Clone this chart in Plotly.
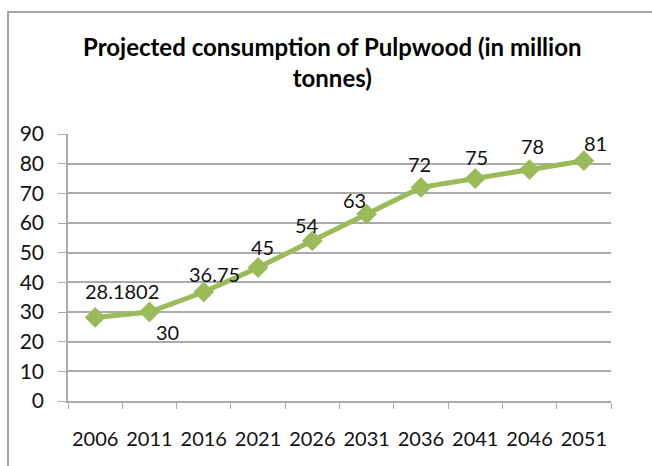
import plotly.graph_objects as go

years = ["2006", "2011", "2016", "2021", "2026", "2031", "2036", "2041", "2046", "2051"]
values = [28.1802, 30, 36.75, 45, 54, 63, 72, 75, 78, 81]
labels = ["28.1802", "30", "36.75", "45", "54", "63", "72", "75", "78", "81"]

# label offsets (pixels) relative to each point
label_dx = [27, 18, 11, 4, -5, -12, -1, 1, 3, 12]
label_dy = [26, -20, 18, 21, 16, 14, 23, 22, 24, 18]

GREEN = "#9bbb59"
GRID = "#ababab"
FONT = "Lato"

fig = go.Figure()
fig.add_trace(go.Scatter(
    x=years, y=values, mode="lines+markers",
    line=dict(color=GREEN, width=5),
    marker=dict(symbol="diamond", size=16, color=GREEN),
    hoverinfo="skip", showlegend=False,
))

for i, (y, t, dx, dy) in enumerate(zip(values, labels, label_dx, label_dy)):
    fig.add_annotation(x=i, y=y, text=t, showarrow=False, xshift=dx, yshift=dy,
                       font=dict(family=FONT, size=20, color="#111111"))

# title
fig.add_annotation(xref="paper", yref="paper", x=(332.5 - 68) / 543, y=(401 - 62.5) / 267,
                   xanchor="center", yanchor="middle", showarrow=False,
                   text="<b>Projected consumption of Pulpwood (in million<br>tonnes)</b>",
                   font=dict(family=FONT, size=24, color="#000000"))

# chart-area border (extends beyond the right/bottom edges like the reference)
fig.add_shape(type="rect", xref="paper", yref="paper",
              x0=-60/543, x1=1.5, y0=-1.0, y1=1 + 122/267,
              line=dict(color="#a6a6a6", width=2), layer="below")

fig.update_layout(
    width=652, height=466,
    margin=dict(l=68, r=41, t=134, b=65),
    paper_bgcolor="white", plot_bgcolor="white",
    font=dict(family=FONT, size=20, color="#111111"),
    xaxis=dict(type="category", range=[-0.5, 9.5], showgrid=False,
               showline=True, linecolor=GRID, linewidth=1.5,
               ticks="outside", tickson="boundaries", ticklen=6, tickcolor=GRID,
               tickangle=0, automargin=False,
               ticklabelstandoff=19, tickfont=dict(size=20), fixedrange=True),
    yaxis=dict(range=[0, 90], dtick=10, showgrid=True, gridcolor=GRID, gridwidth=1.5,
               showline=True, linecolor=GRID, linewidth=1.5, zeroline=False,
               ticks="outside", ticklen=8, tickcolor=GRID, automargin=False,
               ticklabelstandoff=10, tickfont=dict(size=21), fixedrange=True),
)

fig.write_html("out.html")
